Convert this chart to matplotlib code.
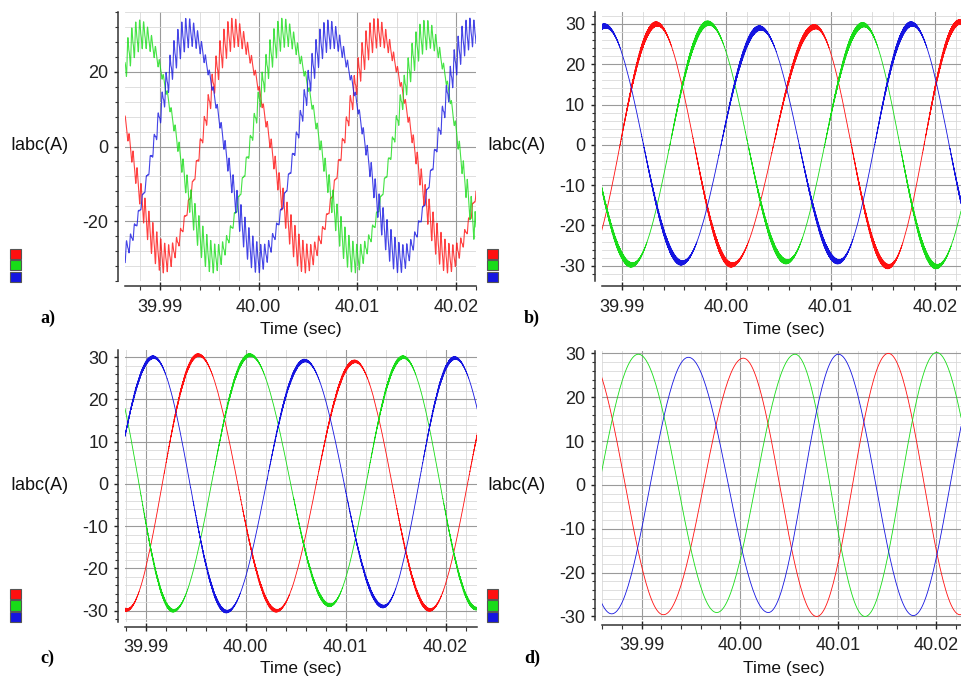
import numpy as np
import matplotlib.pyplot as plt
from matplotlib.patches import Rectangle
from matplotlib.ticker import FixedLocator, MultipleLocator, FormatStrFormatter

plt.rcParams['font.family'] = ['Liberation Sans', 'DejaVu Sans']
plt.rcParams['axes.unicode_minus'] = False

# Extrema (peak / trough) of each phase current.
# time in s, current in A
A_RED_T = [39.98336, 39.99061, 39.99758, 40.00490, 40.01208, 40.01939, 40.02664]
A_RED_I = [30.0, -30.0, 30.5, -30.0, 30.5, -30.0, 30.0]
A_GRN_T = [39.98090, 39.98815, 39.99556, 40.00264, 40.00989, 40.01713, 40.02344]
A_GRN_I = [-30.0, 30.0, -30.0, 30.5, -30.0, 30.0, -30.0]
A_BLU_T = [39.98572, 39.99297, 40.00011, 40.00726, 40.01444, 40.02161, 40.02886]
A_BLU_I = [-30.0, 30.5, -30.0, 30.0, -30.0, 30.5, -30.0]

B_RED_T = [39.97899, 39.98633, 39.99335, 40.00053, 40.00851, 40.01553, 40.02240, 40.02958]
B_RED_I = [29.5, -30.0, 30.0, -29.8, 29.3, -30.2, 30.5, -30.0]
B_GRN_T = [39.98346, 39.99096, 39.99830, 40.00580, 40.01314, 40.02016, 40.02750]
B_GRN_I = [29.5, -29.8, 30.2, -29.0, 29.8, -30.2, 30.0]
B_BLU_T = [39.98106, 39.98840, 39.99575, 40.00325, 40.01075, 40.01777, 40.02495]
B_BLU_I = [-29.5, 29.5, -29.3, 29.0, -29.0, 30.0, -30.0]

C_RED_T = [39.98077, 39.98810, 39.99527, 40.00310, 40.01093, 40.01843, 40.02593]
C_RED_I = [29.5, -29.8, 30.5, -30.0, 29.0, -29.8, 29.5]
C_GRN_T = [39.98593, 39.99277, 40.00043, 40.00843, 40.01577, 40.02310, 40.03043]
C_GRN_I = [29.5, -30.0, 30.5, -28.7, 30.0, -29.5, 29.5]
C_BLU_T = [39.98327, 39.99077, 39.99810, 40.00593, 40.01377, 40.02093, 40.02843]
C_BLU_I = [-29.5, 30.0, -30.2, 29.2, -29.0, 29.8, -29.5]

D_RED_T = [39.98439, 39.99221, 40.00036, 40.00784, 40.01514, 40.02245, 40.02993]
D_RED_I = [30.0, -29.6, 28.9, -30.0, 30.0, -29.6, 30.0]
D_GRN_T = [39.98168, 39.98966, 39.99765, 40.00563, 40.01277, 40.02007, 40.02755]
D_GRN_I = [-29.5, 29.8, -29.1, 29.8, -30.0, 30.2, -29.5]
D_BLU_T = [39.97913, 39.98694, 39.99476, 40.00291, 40.01005, 40.01769, 40.02517]
D_BLU_I = [29.0, -29.4, 29.1, -29.1, 29.8, -29.8, 29.5]

X_TICKS = [39.99, 40.00, 40.01, 40.02]
PANEL_LABELS = ['a)', 'b)', 'c)', 'd)']

# ripple / noise riding on the fundamental (A)
RIPPLE_AMP = [4.0, 0.9, 0.55, 0.0]
RIPPLE_FREQ = [2500.0, 47000.0, 31000.0, 0.0]

RED, GREEN, BLUE = '#ff1010', '#18dc18', '#1515e0'

W, H = 961, 679


def px(x, y):
    return x / W, 1 - y / H


def wave(t, times, values):
    times = np.asarray(times)
    values = np.asarray(values)
    k = np.clip(np.searchsorted(times, t) - 1, 0, len(times) - 2)
    t0, t1 = times[k], times[k + 1]
    v0, v1 = values[k], values[k + 1]
    s = (t - t0) / (t1 - t0)
    i = (v0 + v1) / 2 + (v0 - v1) / 2 * np.cos(np.pi * s)
    theta = np.where(v0 > 0, 0.0, np.pi) + np.pi * s
    return i, theta


panels = [
    dict(data=[(A_RED_T, A_RED_I), (A_GRN_T, A_GRN_I), (A_BLU_T, A_BLU_I)],
         xlim=(39.98645, 40.02202), ylim=(-36.1, 36.1), ymaj=20, ymin=4,
         box=(125, 12, 476, 281), n=7000),
    dict(data=[(B_RED_T, B_RED_I), (B_GRN_T, B_GRN_I), (B_BLU_T, B_BLU_I)],
         xlim=(39.98808, 40.02249), ylim=(-33.8, 33.05), ymaj=10, ymin=2,
         box=(601.7, 11.7, 961, 281), n=24000),
    dict(data=[(C_RED_T, C_RED_I), (C_GRN_T, C_GRN_I), (C_BLU_T, C_BLU_I)],
         xlim=(39.98793, 40.02317), ylim=(-32.6, 31.7), ymaj=10, ymin=2,
         box=(125, 350, 477.3, 621.7), n=20000),
    dict(data=[(D_RED_T, D_RED_I), (D_GRN_T, D_GRN_I), (D_BLU_T, D_BLU_I)],
         xlim=(39.98592, 40.02255), ylim=(-30.8, 30.6), ymaj=10, ymin=2,
         box=(601.7, 350.7, 961, 620), n=260),
]

fig = plt.figure(figsize=(W / 100, H / 100), dpi=100)

for p, cfg in enumerate(panels):
    x0, y0, x1, y1 = cfg['box']
    ax = fig.add_axes([x0 / W, 1 - y1 / H, (x1 - x0) / W, (y1 - y0) / H])
    t = np.linspace(cfg['xlim'][0], cfg['xlim'][1], cfg['n'])
    for j, ((tt, vv), col) in enumerate(zip(cfg['data'], [RED, GREEN, BLUE])):
        i, theta = wave(t, tt, vv)
        if RIPPLE_AMP[p] > 0:
            m = 0.5 + 0.5 * np.cos(2 * (theta + np.pi / 6))
            f = RIPPLE_FREQ[p]
            ph = 2 * np.pi * f * t + j * 2.1
            if p == 0:
                m = 0.25 + 0.75 * m
                r = np.sin(ph) + 0.35 * np.sin(2 * ph)
            else:
                m = m ** 1.5
                r = 0.6 * np.sin(ph) + 0.4 * np.sin(1.618 * ph + 0.7)
            i = i + RIPPLE_AMP[p] * m * r
        ax.plot(t, i, color=col, lw=0.8 if p == 0 else 0.6,
                alpha=0.8 if p == 0 else 1.0, zorder=3)

    ax.set_xlim(cfg['xlim'])
    ax.set_ylim(cfg['ylim'])
    ax.xaxis.set_major_locator(FixedLocator(X_TICKS))
    ax.xaxis.set_major_formatter(FormatStrFormatter('%.2f'))
    ax.xaxis.set_minor_locator(MultipleLocator(0.002))
    ax.yaxis.set_major_locator(MultipleLocator(cfg['ymaj']))
    ax.yaxis.set_minor_locator(MultipleLocator(cfg['ymin']))
    ax.yaxis.set_major_formatter(FormatStrFormatter('%d'))

    ax.grid(True, which='minor', color='#d9d9d9', lw=0.6, zorder=0)
    ax.grid(True, which='major', color='#9a9a9a', lw=0.8, zorder=1)
    ax.set_axisbelow(True)

    for s in ['top', 'right']:
        ax.spines[s].set_visible(False)
    ax.spines['left'].set_position(('outward', 5))
    ax.spines['bottom'].set_position(('outward', 3.6))
    ax.spines['left'].set_color('#333333')
    ax.spines['bottom'].set_color('#333333')
    ax.spines['left'].set_linewidth(1.1)
    ax.spines['bottom'].set_linewidth(1.1)

    ax.tick_params(axis='x', which='major', direction='inout', length=6,
                   width=1, pad=6, labelsize=13, colors='#222222')
    ax.tick_params(axis='x', which='minor', direction='out', length=3,
                   width=0.8, colors='#333333')
    ax.tick_params(axis='y', which='major', direction='out', length=3,
                   width=1, pad=4, labelsize=13, colors='#222222')
    ax.tick_params(axis='y', which='minor', direction='out', length=2,
                   width=0.8, colors='#333333')

    # labels placed around each panel
    left = 10 if p % 2 == 0 else 487
    top = 0 if p < 2 else 340
    fig.text(*px(left, top + 146), 'Iabc(A)', ha='left', va='center',
             fontsize=13, color='#111111')
    fig.text(*px((x0 + x1) / 2 if p % 2 == 0 else 784, top + 329),
             'Time (sec)', ha='center', va='center', fontsize=12.5,
             color='#111111')
    fig.text(*px(left + 30 if p % 2 == 0 else left + 37, top + 318),
             PANEL_LABELS[p], ha='left', va='center', fontsize=13,
             fontweight='bold', family=['Liberation Serif', 'DejaVu Serif'])
    for k, col in enumerate([RED, GREEN, BLUE]):
        bx, by = px(left, top + 249 + 11.5 * (k + 1) - 1.5)
        fig.patches.append(Rectangle((bx, by), 10.5 / W, 10.5 / H,
                                     transform=fig.transFigure,
                                     facecolor=col, edgecolor='#555555',
                                     lw=0.8))

fig.savefig('out.png', dpi=100)
